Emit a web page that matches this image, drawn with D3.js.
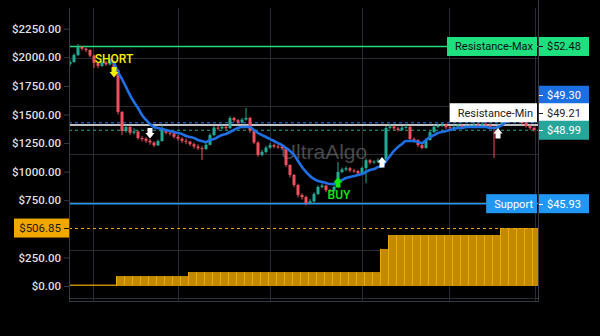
<!DOCTYPE html>
<html><head><meta charset="utf-8">
<script src="https://cdn.jsdelivr.net/npm/d3@7"></script>
<style>html,body{margin:0;padding:0;background:#000;}svg{display:block}</style>
</head><body><svg id="c" width="600" height="336"></svg>
<script>
// ---------- data ----------
const closes = [
 1959,2020,2090,2075,2064,2015,1950,1925,1955,1938,
 1962,1889,1522,1355,1390,1340,1352,1294,1288,1270,
 1255,1230,1268,1364,1340,1335,1305,1288,1270,1262,
 1240,1220,1205,1198,1235,1320,1385,1378,1392,1380,
 1469,1450,1430,1455,1470,1360,1255,1146,1172,1210,
 1232,1220,1218,1205,1058,971,883,796,778,726,
 740,805,866,878,838,832,866,997,1018,1030,
 1010,1005,985,1032,1100,1080,1088,1098,1105,1382,
 1395,1378,1365,1385,1392,1285,1275,1233,1207,1277,
 1345,1392,1400,1410,1388,1380,1392,1402,1388,1395,
 1400,1410,1405,1418,1406,1390,1380,1400,1452,1522,
 1540,1520,1468,1425,1400,1382,1364];
const highs = [
 1975,2035,2115,2100,2085,2070,2025,1960,1965,1970,
 1985,1970,1895,1530,1410,1400,1380,1360,1310,1300,
 1285,1265,1280,1408,1375,1355,1345,1320,1300,1290,
 1270,1255,1240,1225,1250,1335,1400,1400,1410,1405,
 1485,1480,1460,1470,1557,1480,1370,1265,1190,1225,
 1250,1245,1240,1230,1212,1065,980,895,810,790,
 760,820,880,895,885,850,880,1084,1035,1045,
 1040,1025,1015,1045,1115,1110,1100,1115,1120,1400,
 1415,1405,1390,1400,1410,1398,1300,1285,1245,1290,
 1360,1410,1418,1425,1420,1400,1410,1420,1412,1410,
 1420,1430,1425,1435,1428,1415,1400,1415,1470,1540,
 1560,1555,1530,1480,1435,1410,1395];
const lows = [
 1920,1950,2010,2060,2045,2000,1905,1905,1915,1925,
 1930,1870,1500,1320,1340,1320,1325,1280,1265,1250,
 1235,1215,1225,1262,1325,1315,1290,1270,1250,1240,
 1225,1200,1190,1102,1190,1230,1310,1360,1370,1365,
 1375,1435,1415,1420,1445,1340,1240,1130,1135,1160,
 1200,1205,1200,1190,1040,950,865,775,755,705,
 715,730,795,855,820,815,825,860,985,1005,
 995,990,970,975,901,1065,1070,1080,1090,1100,
 1370,1360,1350,1355,1375,1270,1255,1215,1195,1200,
 1270,1340,1380,1390,1372,1365,1370,1385,1375,1378,
 1385,1392,1390,1398,1392,1375,1120,1372,1395,1445,
 1510,1505,1455,1410,1385,1365,1350];
const firstOpen = 1940;
const maValues = [
 null,null,null,null,null,null,null,null,null,null,
 1976,1950,1871,1810,1740,1670,1609,1557,1495,1452,
 1417,1390,1382,1373,1364,1355,1347,1338,1329,1312,
 1303,1294,1277,1268,1259,1277,1285,1303,1320,1329,
 1347,1364,1382,1390,1390,1390,1364,1338,1320,1303,
 1285,1268,1250,1233,1207,1181,1146,1093,1040,997,
 962,936,918,910,901,892,892,910,927,944,
 953,962,971,979,997,1014,1023,1040,1049,1093,
 1137,1181,1216,1242,1268,1268,1268,1259,1250,1277,
 1303,1320,1338,1347,1355,1364,1373,1382,1382,1390,
 1390,1390,1390,1390,1390,1382,1382,1390,1408,1434,
 1452,1469,1469,1460,1452,1443,1434];
const equity = [
 0,0,0,0,0,0,
 87,87,87,87,87,87,87,87,87,
 122,122,122,122,122,122,122,122,122,122,122,122,122,122,122,122,122,122,122,122,122,122,122,122,
 324,
 446,446,446,446,446,446,446,446,446,446,446,446,446,446,
 506.85,506.85,506.85,506.85,506.85];
const equityLast = 506.85;
const leftTicks  = [0,250,500,750,1000,1250,1500,1750,2000,2250];
const rightTicks = [42,44,46,48,50,52,54];
const xTickBars   = [5.75,27,50,73,94.75,116.25];
const xTickLabels = ["2","8","14","20","27","15:00"];
const levelNames  = ["Resistance-Max","Resistance-Min","Support"];
const levelValues = [52.48,49.21,45.93];
const tagValues   = [52.48,49.30,49.21,48.99,45.93];
const signalBars   = [11,20,67,78,107];
const signalKinds  = ["short","down","buy","up","up"];
const signalValues = [1915,1382,953,1128,1382];

// ---------- layout / styles ----------
const W=600,H=336,L=69,R=538,T=8,B=301;
const FONT="Roboto, 'Liberation Sans', Arial, sans-serif";
const svg=d3.select("#c");
svg.append("rect").attr("width",W).attr("height",H).attr("fill","#000");
const x=d3.scaleLinear().domain([-0.25,117]).range([L,R]);
const yL=d3.scaleLinear().domain([0,2250]).range([286,28.7]);
const yR=d3.scaleLinear().domain([42,54]).range([298,10]);
const defs=svg.append("defs");
defs.append("clipPath").attr("id","plot").append("rect").attr("x",L).attr("y",0).attr("width",R-L).attr("height",B);
defs.append("clipPath").attr("id","xlab").append("rect").attr("x",0).attr("y",B).attr("width",R).attr("height",H-B);
defs.append("clipPath").attr("id","rlab").append("rect").attr("x",R).attr("y",5).attr("width",W-R).attr("height",B-4);

// tag stacking (avoid overlaps, lowest first)
const tagStep=17.5, tagH=19;
const order=tagValues.map((v,i)=>i).sort((a,b)=>tagValues[a]-tagValues[b]);
const tagY={}; let prev=Infinity;
order.forEach(i=>{ let yy=yR(tagValues[i]); if(yy>prev-tagStep) yy=prev-tagStep; tagY[tagValues[i]]=yy; prev=yy; });
const hiddenByTag=v=>tagValues.some(t=>Math.abs(tagY[t]-yR(v))<tagH/2+2);

// grid
const grid=svg.append("g").attr("stroke","#2b2b33").attr("stroke-width",1);
rightTicks.filter(v=>v<54).forEach(v=>{
  const yy=Math.round(yR(v))+0.5;
  grid.append("line").attr("x1",L).attr("x2",R).attr("y1",yy).attr("y2",yy);
});
xTickBars.forEach(b=>{
  const xx=Math.round(x(b))+0.5;
  grid.append("line").attr("x1",xx).attr("x2",xx).attr("y1",T).attr("y2",B);
});

const plot=svg.append("g").attr("clip-path","url(#plot)");
// watermark
plot.append("text").attr("x",(x(50)+x(73))/2+8).attr("y",159).attr("text-anchor","middle")
  .attr("font-family","'Liberation Sans', Arial, sans-serif").attr("font-size",21)
  .attr("fill","#7a7a7a").attr("fill-opacity",0.6).text("UltraAlgo");

// equity columns
equity.forEach((v,c)=>{
  const x0=x(2*c-0.5), x1=x(2*c+1.5);
  const top=yL(v), base=yL(0);
  plot.append("rect").attr("x",x0).attr("width",x1-x0)
    .attr("y",Math.min(top,base-1.5)).attr("height",Math.max(1.5,base-top))
    .attr("fill","#c38a00");
  if(v>0) plot.append("line").attr("x1",x0+0.5).attr("x2",x0+0.5).attr("y1",top).attr("y2",base)
    .attr("stroke","#eeaa00").attr("stroke-width",1);
});
plot.append("line").attr("x1",L).attr("x2",R).attr("y1",Math.round(yL(equityLast))+0.5).attr("y2",Math.round(yL(equityLast))+0.5)
  .attr("stroke","#f0a800").attr("stroke-dasharray","3,3");

// level lines
const lineStyle={52.48:{c:"#22dd77",w:1.3,d:null},49.30:{c:"#2b7cf0",w:1,d:"3,3"},49.21:{c:"#ffffff",w:1.5,d:null},
  48.99:{c:"#26a69a",w:1,d:"3,3"},45.93:{c:"#2196f3",w:1.5,d:null}};
tagValues.forEach(v=>{
  const s=lineStyle[v]; const yy=yR(v);
  plot.append("line").attr("x1",L).attr("x2",R).attr("y1",yy).attr("y2",yy)
    .attr("stroke",s.c).attr("stroke-width",s.w).attr("stroke-dasharray",s.d);
});

const tagStyle={52.48:{bg:"#1ee07f",fg:"#111"},49.30:{bg:"#1c6fe3",fg:"#fff"},49.21:{bg:"#ffffff",fg:"#222"},
  48.99:{bg:"#26a69a",fg:"#fff"},45.93:{bg:"#2196f3",fg:"#fff"}};
// name boxes inside plot
levelNames.forEach((n,i)=>{
  const v=levelValues[i], s=tagStyle[v], yy=tagY[v];
  const gname=svg.append("g");
  const t=gname.append("text").attr("font-family",FONT).attr("font-size",11).attr("fill",s.fg)
    .attr("text-anchor","end").attr("x",R-5).attr("y",yy).attr("dy","0.35em").text(n);
  const w=t.node().getComputedTextLength();
  gname.insert("rect","text").attr("x",R-5-w-8).attr("y",yy-tagH/2).attr("width",w+12).attr("height",tagH).attr("fill",s.bg);
});

// candles
const cg=plot.append("g");
closes.forEach((c,i)=>{
  const o=i===0?firstOpen:closes[i-1];
  const up=c>=o, col=up?"#22ab94":"#f0505d";
  cg.append("line").attr("x1",x(i)).attr("x2",x(i)).attr("y1",yL(highs[i])).attr("y2",yL(lows[i]))
    .attr("stroke",col).attr("stroke-width",1);
  const y0=yL(Math.max(o,c)), y1=yL(Math.min(o,c));
  cg.append("rect").attr("x",x(i)-1.5).attr("width",3).attr("y",y0).attr("height",Math.max(1,y1-y0)).attr("fill",col);
});

// moving average
const ma=d3.line().defined(d=>d!=null).x((d,i)=>x(i)).y(d=>yL(d)).curve(d3.curveMonotoneX);
plot.append("path").attr("d",ma(maValues)).attr("fill","none").attr("stroke","#1f6fe5").attr("stroke-width",2.6);

// signals
const sigColor={short:"#f0f000",down:"#ffffff",buy:"#14e614",up:"#ffffff"};
signalBars.forEach((b,i)=>{
  const k=signalKinds[i], cx=x(b), t=yL(signalValues[i]);
  let p;
  if(k==="short"||k==="down")
    p=`M${cx-2.5},${t}L${cx+2.5},${t}L${cx+2.5},${t+5}L${cx+4.5},${t+5}L${cx},${t+10.5}L${cx-4.5},${t+5}L${cx-2.5},${t+5}Z`;
  else
    p=`M${cx},${t}L${cx+4.5},${t+5.5}L${cx+2.5},${t+5.5}L${cx+2.5},${t+10.5}L${cx-2.5},${t+10.5}L${cx-2.5},${t+5.5}L${cx-4.5},${t+5.5}Z`;
  svg.append("path").attr("d",p).attr("fill",sigColor[k]);
  if(k==="short") svg.append("text").attr("x",cx).attr("y",t-4).attr("text-anchor","middle")
    .attr("font-family",FONT).attr("font-size",12).attr("font-weight",500).attr("fill",sigColor[k]).text("SHORT");
  if(k==="buy") svg.append("text").attr("x",cx+1).attr("y",t+22).attr("text-anchor","middle")
    .attr("font-family",FONT).attr("font-size",12).attr("font-weight",500).attr("fill",sigColor[k]).text("BUY");
});

// axes
const AX="#363a48", TXT="#dedede";
function styleAxis(g,size){
  g.attr("font-family",FONT).attr("font-size",size).attr("font-weight",500);
  g.select(".domain").remove();
  g.selectAll(".tick line").attr("stroke",AX);
  g.selectAll(".tick text").attr("fill",TXT);
}
const fmt=d3.format(".2f");
svg.append("g").attr("transform",`translate(${L},0)`)
  .call(d3.axisLeft(yL).tickValues(leftTicks.filter(v=>Math.abs(yL(v)-yL(equityLast))>tagH/2+2))
    .tickFormat(d=>"$"+fmt(d)).tickSize(5).tickPadding(3)).call(styleAxis,11.5);
svg.append("g").attr("transform",`translate(${R},0)`).attr("clip-path","url(#rlab)")
  .call(d3.axisRight(yR).tickValues(rightTicks.filter(v=>!hiddenByTag(v))).tickFormat(d=>"$"+fmt(d)).tickSize(5).tickPadding(4)).call(styleAxis,11);
svg.append("g").attr("transform",`translate(0,${B})`).attr("clip-path","url(#xlab)")
  .call(d3.axisBottom(x).tickValues(xTickBars).tickFormat((d,i)=>xTickLabels[i]).tickSize(5).tickPadding(3)).call(styleAxis,11.5);
svg.append("line").attr("x1",L+0.5).attr("x2",L+0.5).attr("y1",T).attr("y2",B+1).attr("stroke",AX);
svg.append("line").attr("x1",R+0.5).attr("x2",R+0.5).attr("y1",0).attr("y2",B+1).attr("stroke",AX);
svg.append("line").attr("x1",L).attr("x2",R).attr("y1",B+0.5).attr("y2",B+0.5).attr("stroke",AX);

// right price tags
tagValues.forEach(v=>{
  const s=tagStyle[v], yy=tagY[v];
  svg.append("rect").attr("x",R+1).attr("y",yy-tagH/2).attr("width",50).attr("height",tagH).attr("fill",s.bg);
  svg.append("line").attr("x1",R+1).attr("x2",R+5).attr("y1",Math.round(yy)+0.5).attr("y2",Math.round(yy)+0.5).attr("stroke",s.fg);
  svg.append("text").attr("x",R+9).attr("y",yy).attr("dy","0.35em").attr("font-family",FONT).attr("font-size",11)
    .attr("fill",s.fg).text("$"+fmt(v));
});
// left equity tag
{
  const yy=yL(equityLast);
  svg.append("rect").attr("x",14).attr("y",yy-tagH/2).attr("width",L-14).attr("height",tagH).attr("fill","#f0a800");
  svg.append("line").attr("x1",L-5).attr("x2",L).attr("y1",Math.round(yy)+0.5).attr("y2",Math.round(yy)+0.5).attr("stroke","#111");
  svg.append("text").attr("x",L-8).attr("y",yy).attr("dy","0.35em").attr("text-anchor","end").attr("font-family",FONT)
    .attr("font-size",11.5).attr("fill","#1a1a1a").text("$"+fmt(equityLast));
}
</script></body></html>
